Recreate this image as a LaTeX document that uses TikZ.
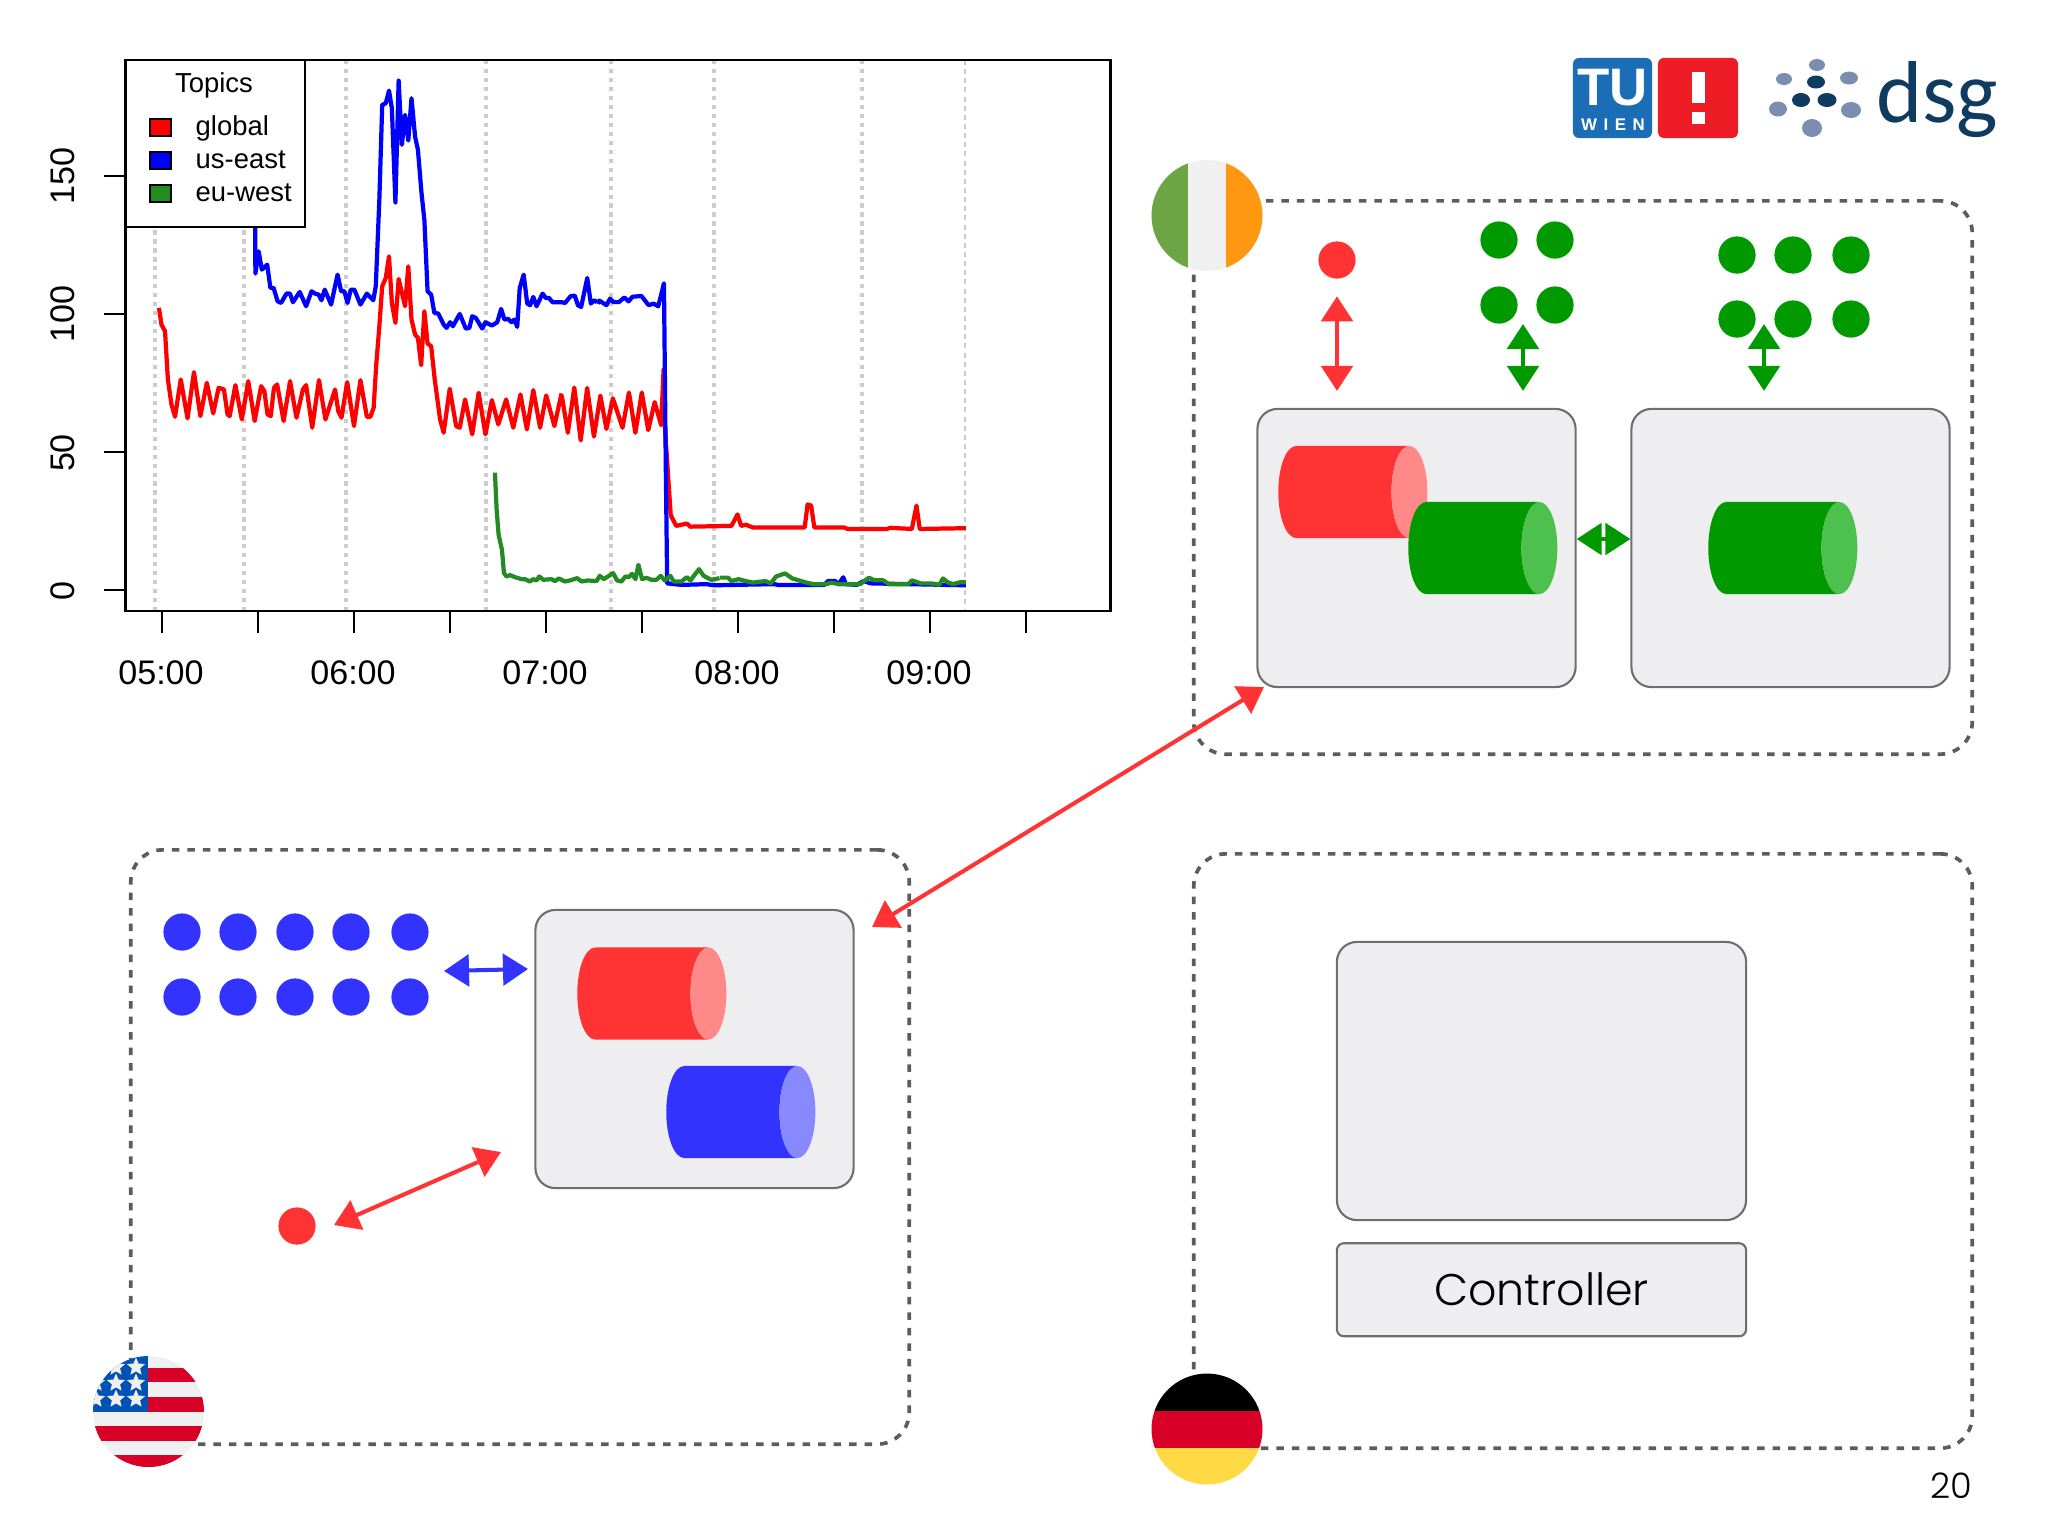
\documentclass[tikz,border=0pt]{standalone}
\usepackage{fontspec}
\setmainfont{Liberation Sans}
\newfontfamily\slidefont{Poppins Light}
\newfontfamily\logofont{Carlito}
\usetikzlibrary{arrows.meta,positioning,shapes.geometric}
\definecolor{msgred}{HTML}{FF3333}
\definecolor{msgredcap}{HTML}{FF8888}
\definecolor{msggreen}{HTML}{009900}
\definecolor{msggreencap}{HTML}{4DC04D}
\definecolor{msgblue}{HTML}{3333FF}
\definecolor{msgbluecap}{HTML}{8888FF}
\definecolor{boxfill}{HTML}{EEEEF0}
\definecolor{boxline}{HTML}{6E6E70}
\definecolor{panelline}{HTML}{5C5C5C}
\definecolor{rgreen}{HTML}{228B22}
\definecolor{dsgdark}{HTML}{0F3B60}
\definecolor{dsglight}{HTML}{7B8DB0}
\definecolor{tublue}{HTML}{1B6DB5}
\definecolor{tured}{HTML}{EE1C25}
\definecolor{flagred}{HTML}{D80027}
\definecolor{flagblue}{HTML}{0052B4}
\definecolor{flagwhite}{HTML}{F0F0F0}
\definecolor{flaggreen}{HTML}{6DA544}
\definecolor{flagorange}{HTML}{FF9811}
\definecolor{flagyellow}{HTML}{FFDA44}

\begin{document}
\begin{tikzpicture}[x=0.01cm,y=-0.01cm,>={Triangle[length=2.5mm,width=3.15mm]},
panel/.style={draw=panelline,line width=1.05pt,dash pattern=on 0.75mm off 0.8mm,rounded corners=3.2mm,minimum width=7.78cm,minimum height=5.94cm},
broker/.style={draw=boxline,line width=0.6pt,fill=boxfill,rounded corners=2mm,minimum width=3.18cm,minimum height=2.78cm},
store/.style={cylinder,shape aspect=0.39,cylinder uses custom fill,minimum height=1.49cm,minimum width=0.92cm,inner xsep=0pt,inner ysep=4.6mm},
redstore/.style={store,cylinder body fill=msgred,cylinder end fill=msgredcap},
greenstore/.style={store,cylinder body fill=msggreen,cylinder end fill=msggreencap},
bluestore/.style={store,cylinder body fill=msgblue,cylinder end fill=msgbluecap},
client/.style={circle,inner sep=0pt,minimum size=3.72mm},
flow/.style={<->,line width=1.15pt},
grid line/.style={draw=black!20,line width=1.3pt,dash pattern=on 1.2pt off 1.35pt},
series/.style={line width=1.2pt,line join=round},
tick/.style={draw=black,line width=0.7pt},
ticklabel/.style={font=\fontsize{9.7}{12}\selectfont,anchor=base},
legendlabel/.style={font=\fontsize{7.8}{10}\selectfont,anchor=base west,inner sep=0pt},
swatch/.style={draw=black,line width=0.6pt,minimum width=0.21cm,minimum height=0.17cm,inner sep=0pt},
spot/.style={ellipse,inner sep=0pt},
flagstar/.style={star,star point ratio=2.2,fill=flagwhite,minimum size=1.9mm,inner sep=0pt},
zoomone/.style={shift={(40,40)},x=0.003571cm,y=-0.003333cm},
zoomtwo/.style={shift={(560,40)},x=0.003571cm,y=-0.003827cm},
zoomthree/.style={shift={(480,450)},x=0.003333cm,y=-0.003333cm}]
\useasboundingbox (0,0) rectangle (2048,1535);

% chart grid
\draw[grid line] (155,60) -- (155,611);
\draw[grid line] (244,60) -- (244,611);
\draw[grid line] (346,60) -- (346,611);
\draw[grid line] (486,60) -- (486,611);
\draw[grid line] (611,60) -- (611,611);
\draw[grid line] (714,60) -- (714,611);
\draw[grid line] (862,60) -- (862,611);
\draw[draw=black!20,line width=0.5pt,dash pattern=on 1.4pt off 1.2pt] (965,60) -- (965,611);

% chart series
\begin{scope}[zoomone]
\draw[series,blue] plot coordinates {(602,500) (603,702) (612,635) (621,690) (636,675) (645,745) (654,745) (665,785) (675,790) (690,762) (700,762) (708,788) (727,757) (745,800) (760,755) (770,762) (780,765) (788,782) (797,750) (815,795) (833,705) (843,755) (852,755) (861,790) (870,750) (880,750) (897,795) (915,762) (933,782) (940,740) (950,480) (958,195) (968,190) (977,152) (985,205) (995,488) (1004,122) (1013,315) (1022,225) (1031,302) (1040,175) (1050,290) (1058,330) (1068,460) (1076,540) (1085,755) (1095,765) (1104,820) (1115,822) (1130,855) (1138,865) (1148,848) (1156,860) (1175,823) (1192,867) (1202,865) (1210,830) (1220,835) (1238,867) (1247,848) (1265,858) (1280,848) (1291,808) (1300,840) (1310,838) (1320,848) (1328,840) (1336,862) (1343,745) (1354,705) (1364,792) (1372,797) (1381,772) (1390,800) (1407,762) (1416,775) (1425,775) (1435,788) (1460,788) (1470,790) (1485,770) (1497,768) (1506,797) (1515,802) (1532,715) (1542,792) (1552,782) (1560,788)};
\draw[series,red] plot coordinates {(333,805) (340,855) (350,875) (358,1020) (368,1095) (378,1132) (394,1020) (413,1137) (431,998) (449,1130) (467,1030) (485,1122) (500,1045) (515,1050) (525,1125) (531,1130) (547,1037) (565,1140) (583,1025) (601,1145) (619,1040) (628,1055) (637,1125) (646,1130) (655,1045) (664,1035) (682,1145) (700,1025) (718,1135) (736,1050) (745,1037) (762,1165) (781,1022) (799,1140) (826,1050) (835,1115) (844,1135) (860,1028) (879,1160) (897,1022) (915,1132) (925,1132) (934,1105) (941,980) (950,860) (958,740) (968,715) (977,650) (985,790) (995,850) (1004,718) (1022,800) (1031,680) (1040,840) (1050,885) (1058,895) (1067,977) (1076,815) (1085,912) (1095,920) (1105,1020) (1120,1140) (1130,1180) (1147,1048) (1165,1160) (1175,1165) (1190,1080) (1210,1185) (1228,1060) (1247,1185) (1265,1082) (1283,1155) (1305,1080) (1325,1165) (1345,1065) (1363,1170) (1381,1052) (1400,1165) (1417,1068) (1440,1160) (1460,1062)};
\end{scope}
\begin{scope}[zoomtwo]
\draw[series,red] plot coordinates {(5,928) (22,1025) (40,907) (58,1045) (76,908) (95,1035) (113,928) (130,1015) (148,935) (175,1012) (193,920) (211,1025) (229,920) (247,1018) (265,945) (283,1005) (290,860) (293,1000) (300,1100) (310,1240) (325,1268) (355,1262) (365,1270) (480,1268) (497,1238) (507,1268) (520,1265) (540,1272) (685,1272) (693,1212) (703,1215) (712,1272) (795,1272) (805,1276) (915,1276) (925,1273) (985,1276) (998,1215) (1007,1276) (1136,1274)};
\draw[series,blue] plot coordinates {(105,688) (110,680) (130,692) (140,675) (150,684) (165,684) (180,672) (192,682) (203,670) (228,668) (248,692) (262,688) (275,695) (291,635) (296,1100) (300,1418) (340,1422) (410,1420) (430,1423) (600,1420) (610,1422) (740,1422) (750,1412) (770,1412) (780,1420) (793,1402) (800,1420) (830,1422) (850,1412) (870,1418) (1136,1423)};
\end{scope}
\begin{scope}[zoomthree]
\draw[series,rgreen] plot coordinates {(45,68) (50,180) (56,255) (66,300) (72,370) (80,380) (90,376) (105,382) (125,388) (135,388) (150,395) (160,388) (170,392) (178,380) (190,390) (215,388) (225,394) (237,386) (255,395) (270,392) (292,385) (305,395) (325,392) (350,394) (360,378) (372,388) (400,370) (412,392) (425,395) (437,380) (447,382) (457,372) (467,388) (476,345) (487,388) (500,384) (515,390) (530,390) (543,378) (555,392) (572,378) (582,395) (605,395) (622,382) (632,392) (658,358) (672,378) (695,390) (720,385)};
\end{scope}
\begin{scope}[zoomtwo]
\draw[series,rgreen] plot coordinates {(448,1403) (470,1403) (480,1412) (500,1407) (520,1412) (540,1416) (575,1412) (590,1418) (605,1400) (630,1392) (650,1405) (690,1416) (710,1420) (745,1420) (760,1416) (780,1420) (840,1420) (865,1403) (880,1410) (905,1410) (920,1420) (975,1420) (985,1410) (1010,1418) (1040,1418) (1062,1422) (1072,1405) (1085,1415) (1100,1420) (1120,1415) (1136,1415)};
\end{scope}

% chart frame, axes and legend
\node[draw=black,line width=0.7pt,minimum width=9.84cm,minimum height=5.51cm] (plotbox) at (618,335.5) {};
\node[draw=black,line width=0.7pt,fill=white,minimum width=1.79cm,minimum height=1.665cm] (legend) at (215.5,143.5) {};
\node[font=\fontsize{7.8}{10}\selectfont,anchor=base] (legendtitle) at (214,92) {Topics};
\node[swatch,fill=red] (swglobal) at (160.5,127.5) {};
\node[swatch,fill=blue] (swuseast) at (160.5,160.5) {};
\node[swatch,fill=rgreen] (sweuwest) at (160.5,193.5) {};
\node[legendlabel] (lbglobal) at (195,135) {global};
\node[legendlabel] (lbuseast) at (195,168) {us-east};
\node[legendlabel] (lbeuwest) at (195,201) {eu-west};
\draw[tick] (104,176) -- (125,176);
\draw[tick] (104,314) -- (125,314);
\draw[tick] (104,452) -- (125,452);
\draw[tick] (104,590) -- (125,590);
\node[ticklabel,rotate=90] (y150) at (74,176) {150};
\node[ticklabel,rotate=90] (y100) at (74,314) {100};
\node[ticklabel,rotate=90] (y50) at (74,453) {50};
\node[ticklabel,rotate=90] (y0) at (74,591) {0};
\draw[tick] (162,611) -- (162,633);
\draw[tick] (258,611) -- (258,633);
\draw[tick] (354,611) -- (354,633);
\draw[tick] (450,611) -- (450,633);
\draw[tick] (546,611) -- (546,633);
\draw[tick] (642,611) -- (642,633);
\draw[tick] (738,611) -- (738,633);
\draw[tick] (834,611) -- (834,633);
\draw[tick] (930,611) -- (930,633);
\draw[tick] (1026,611) -- (1026,633);
\node[ticklabel] (x5) at (161,684) {05:00};
\node[ticklabel] (x6) at (353,684) {06:00};
\node[ticklabel] (x7) at (545,684) {07:00};
\node[ticklabel] (x8) at (737,684) {08:00};
\node[ticklabel] (x9) at (929,684) {09:00};

% logos
\node[fill=tublue,rounded corners=0.6mm,minimum width=0.79cm,minimum height=0.80cm] (tuboxa) at (1612.5,98) {};
\node[fill=tured,rounded corners=0.6mm,minimum width=0.80cm,minimum height=0.80cm] (tuboxb) at (1698,98) {};
\node[font=\bfseries\fontsize{15}{15}\selectfont,text=white,anchor=base] (tutext) at (1612.5,105) {TU};
\node[font=\bfseries\fontsize{4.8}{5}\selectfont\addfontfeature{LetterSpace=39},text=white,anchor=base] (wientext) at (1613,130) {WIEN};
\fill[white] (1692,72) rectangle (1705,103);
\fill[white] (1692,112) rectangle (1705,124);
\node[spot,fill=dsglight,minimum width=1.6mm,minimum height=1.2mm] (spota) at (1817,65) {};
\node[spot,fill=dsglight,minimum width=1.6mm,minimum height=1.2mm] (spotb) at (1784,79) {};
\node[spot,fill=dsglight,minimum width=1.8mm,minimum height=1.3mm] (spotc) at (1849,78) {};
\node[spot,fill=dsglight,minimum width=1.8mm,minimum height=1.5mm] (spotd) at (1778,109) {};
\node[spot,fill=dsglight,minimum width=2mm,minimum height=1.6mm] (spote) at (1851,110) {};
\node[spot,fill=dsglight,minimum width=2mm,minimum height=1.8mm] (spotf) at (1812,128) {};
\node[spot,fill=dsgdark,minimum width=1.8mm,minimum height=1.3mm] (spotg) at (1816,82) {};
\node[spot,fill=dsgdark,minimum width=1.8mm,minimum height=1.4mm] (spoth) at (1801,100) {};
\node[spot,fill=dsgdark,minimum width=1.9mm,minimum height=1.4mm] (spoti) at (1827,100) {};
\node[font=\logofont\fontsize{25}{25}\selectfont,text=dsgdark,anchor=base west,inner sep=0pt] (dsgtext) at (1875.5,122) {dsg};

% panels
\node[panel,minimum height=5.53cm] (iepanel) at (1583,477.5) {};
\node[panel] (uspanel) at (520,1147) {};
\node[panel] (depanel) at (1583,1151) {};

% brokers
\node[broker] (ieA) at (1416.5,548) {};
\node[broker] (ieB) at (1790.5,548) {};
\node[broker] (usA) at (694.5,1049) {};
\node[broker,minimum width=4.09cm] (deA) at (1541.5,1081) {};
\node[broker,rounded corners=0.7mm,minimum width=4.09cm,minimum height=0.93cm,below=2.1mm of deA,font=\slidefont\fontsize{12.6}{15}\selectfont] (ctrl) {Controller};

\node[redstore] (ieglobal) at (1334.5,492) {};
\node[greenstore] (ieeast) at (1464.5,548) {};
\node[greenstore] (iewest) at (1764.5,548) {};
\node[redstore] (usglobal) at (633.5,993.5) {};
\node[bluestore] (useast) at (722.5,1112) {};

% clients
\node[client,fill=msgred] (iered) at (1337,260) {};
\node[client,fill=msggreen] (iega) at (1499,240) {};
\node[client,fill=msggreen] (iegb) at (1555,240) {};
\node[client,fill=msggreen] (iegc) at (1499,305) {};
\node[client,fill=msggreen] (iegd) at (1555,305) {};
\node[client,fill=msggreen] (iege) at (1737,255) {};
\node[client,fill=msggreen] (iegf) at (1793,255) {};
\node[client,fill=msggreen] (iegg) at (1851,255) {};
\node[client,fill=msggreen] (iegh) at (1737,319) {};
\node[client,fill=msggreen] (iegi) at (1793,319) {};
\node[client,fill=msggreen] (iegj) at (1851,319) {};
\node[client,fill=msgblue] (usba) at (182,932) {};
\node[client,fill=msgblue] (usbb) at (238,932) {};
\node[client,fill=msgblue] (usbc) at (295,932) {};
\node[client,fill=msgblue] (usbd) at (351,932) {};
\node[client,fill=msgblue] (usbe) at (410,932) {};
\node[client,fill=msgblue] (usbf) at (182,997) {};
\node[client,fill=msgblue] (usbg) at (238,997) {};
\node[client,fill=msgblue] (usbh) at (295,997) {};
\node[client,fill=msgblue] (usbi) at (351,997) {};
\node[client,fill=msgblue] (usbj) at (410,997) {};
\node[client,fill=msgred] (usred) at (297,1226) {};

% flows
\coordinate (ieleft) at (1523,324);
\coordinate (ieright) at (1764,324);
\coordinate (ielink) at (1603,539);
\coordinate (iefar) at (1264,687);
\coordinate (usfar) at (872,927);
\coordinate (usblue) at (444,971);
\coordinate (usbroker) at (528,969);
\coordinate (usredend) at (334,1225);
\coordinate (usredtip) at (501,1152);
\draw[flow,msgred,shorten <=1.7mm,shorten >=1.7mm] (iered.south) -- (iered.south |- ieA.north);
\draw[flow,msggreen,shorten >=1.7mm] (ieleft) -- (ieleft |- ieA.north);
\draw[flow,msggreen,shorten >=1.7mm] (ieright) -- (ieright |- ieB.north);
\draw[flow,msggreen] (ieA.east |- ielink) -- (ieB.west |- ielink);
\draw[flow,msgred] (iefar) -- (usfar);
\draw[flow,msgblue] (usblue) -- (usbroker);
\draw[flow,msgred] (usredend) -- (usredtip);

% flags
\begin{scope}
\clip (1207,215.5) circle (55.5);
\fill[flagwhite] (1150,155) rectangle (1265,275);
\fill[flaggreen] (1150,155) rectangle (1188,275);
\fill[flagorange] (1226,155) rectangle (1265,275);
\end{scope}
\begin{scope}
\clip (1207,1429) circle (55.5);
\fill[black] (1150,1370) rectangle (1265,1411);
\fill[flagred] (1150,1411) rectangle (1265,1448);
\fill[flagyellow] (1150,1448) rectangle (1265,1490);
\end{scope}
\begin{scope}
\clip (148.5,1411.5) circle (55.5);
\fill[flagwhite] (90,1350) rectangle (210,1470);
\fill[flagred] (148,1368) rectangle (210,1382);
\fill[flagred] (148,1397) rectangle (210,1412);
\fill[flagred] (90,1426) rectangle (210,1441);
\fill[flagred] (90,1455) rectangle (210,1470);
\fill[flagblue] (90,1350) rectangle (148,1412);
\node[flagstar] (stara) at (116,1367) {};
\node[flagstar] (starb) at (136,1367) {};
\node[flagstar] (starc) at (96,1383) {};
\node[flagstar] (stard) at (116,1383) {};
\node[flagstar] (stare) at (136,1383) {};
\node[flagstar] (starf) at (96,1399) {};
\node[flagstar] (starg) at (116,1399) {};
\node[flagstar] (starh) at (136,1399) {};
\end{scope}

\node[font=\slidefont\fontsize{10}{12}\selectfont,anchor=base] (pagenum) at (1951,1498) {20};
\end{tikzpicture}
\end{document}
